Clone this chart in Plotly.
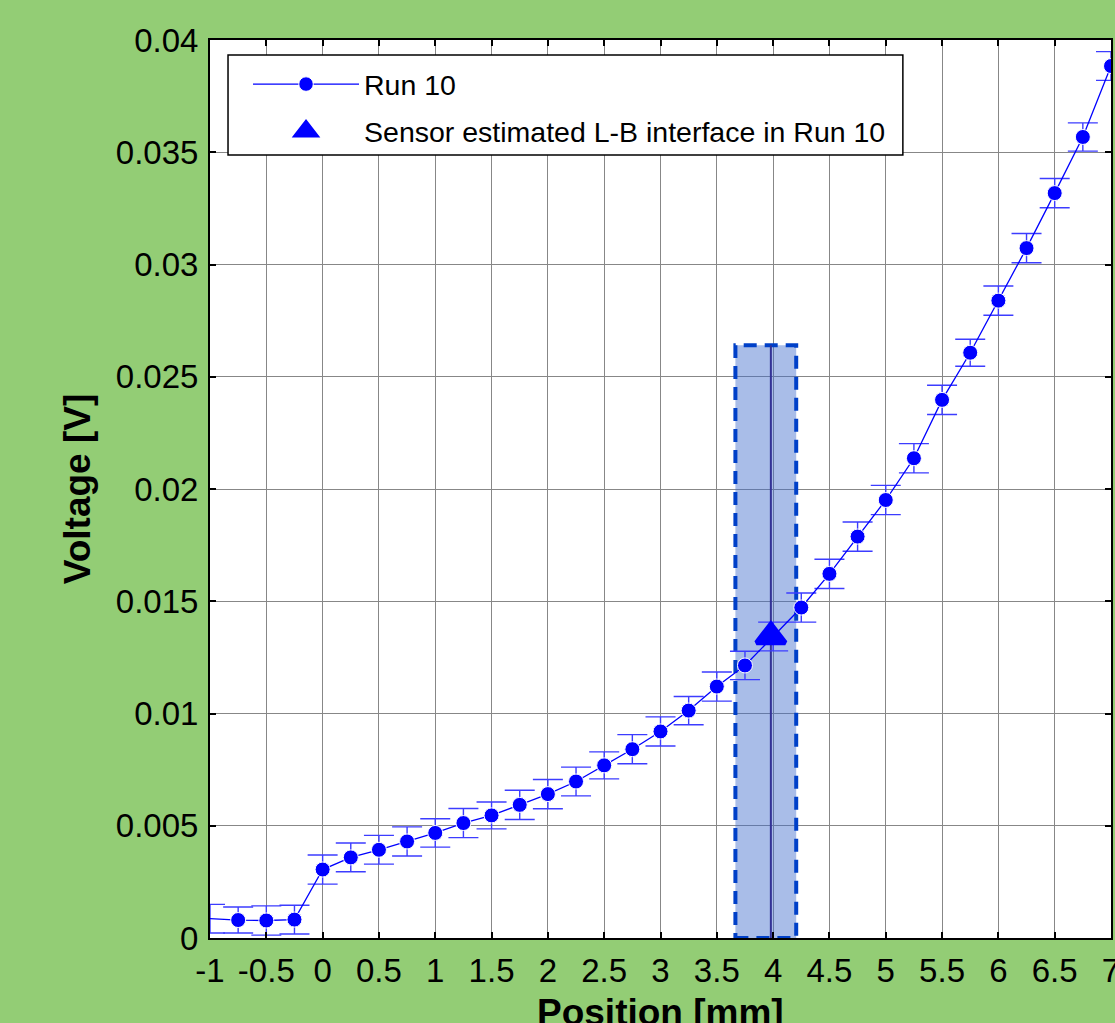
import plotly.graph_objects as go

# ---- data ----
position_mm = [-1.0, -0.75, -0.5, -0.25, 0.0, 0.25, 0.5, 0.75, 1.0, 1.25, 1.5, 1.75,
               2.0, 2.25, 2.5, 2.75, 3.0, 3.25, 3.5, 3.75, 4.0, 4.25, 4.5, 4.75,
               5.0, 5.25, 5.5, 5.75, 6.0, 6.25, 6.5, 6.75, 7.0]
voltage_v = [0.00086, 0.00080, 0.00078, 0.00082, 0.00305, 0.00359, 0.00393, 0.00430,
             0.00468, 0.00512, 0.00546, 0.00593, 0.00641, 0.00697, 0.00769, 0.00841,
             0.00920, 0.01013, 0.01120, 0.01214, 0.01343, 0.01472, 0.01622, 0.01788,
             0.01951, 0.02137, 0.02397, 0.02607, 0.02839, 0.03073, 0.03318, 0.03568, 0.03884]
voltage_err = [0.00064, 0.00058, 0.00065, 0.00064, 0.00065, 0.00064, 0.00064, 0.00065,
               0.00063, 0.00065, 0.00060, 0.00065, 0.00065, 0.00064, 0.00060, 0.00065,
               0.00065, 0.00063, 0.00065, 0.00063, 0.00064, 0.00065, 0.00065, 0.00065,
               0.00065, 0.00065, 0.00065, 0.00060, 0.00065, 0.00065, 0.00065, 0.00063, 0.00064]

interface_x = [3.98]
interface_v = [0.01343]
band_x = [3.665, 4.205]      # uncertainty band of the interface position
band_top_v = 0.0264

x_ticks = [-1, -0.5, 0, 0.5, 1, 1.5, 2, 2.5, 3, 3.5, 4, 4.5, 5, 5.5, 6, 6.5, 7]
x_tick_labels = ["-1", "-0.5", "0", "0.5", "1", "1.5", "2", "2.5", "3", "3.5", "4",
                 "4.5", "5", "5.5", "6", "6.5", "7"]
y_ticks = [0, 0.005, 0.01, 0.015, 0.02, 0.025, 0.03, 0.035, 0.04]
y_tick_labels = ["0", "0.005", "0.01", "0.015", "0.02", "0.025", "0.03", "0.035", "0.04"]

x_title = "Position [mm]"
y_title = "Voltage [V]"

x_range = [-1, 7]
y_range = [0, 0.04]

FONT = "Liberation Sans, Arial, sans-serif"
BLUE = "#0000ff"
GREEN = "#93cd75"

# markers whose centre sits on the left axis limit are not drawn in the original
marker_sizes = [0 if x <= x_range[0] else 15 for x in position_mm]

fig = go.Figure()

fig.add_trace(go.Scatter(
    x=position_mm, y=voltage_v, name="Run 10", mode="lines+markers",
    line=dict(color=BLUE, width=1.3),
    marker=dict(color=BLUE, size=marker_sizes, symbol="circle", opacity=1),
    error_y=dict(type="data", array=voltage_err, visible=True,
                 color="rgb(60,60,255)", thickness=1.4, width=15),
    legendgroup="a", cliponaxis=True,
))
fig.add_trace(go.Scatter(
    x=interface_x, y=interface_v, name="Sensor estimated L-B interface in Run 10",
    mode="markers",
    marker=dict(color=BLUE, size=25, symbol="triangle-up", opacity=1,
                line=dict(color=BLUE, width=5)),
    legendgroup="b", cliponaxis=True,
))

# interface uncertainty band and estimated interface position
fig.add_shape(type="rect", xref="x", yref="y", x0=band_x[0], x1=band_x[1],
              y0=0, y1=band_top_v, layer="between",
              fillcolor="rgba(64,108,204,0.45)",
              line=dict(color="rgb(0,64,200)", width=4, dash="13px,8px"))
fig.add_shape(type="line", xref="x", yref="y", x0=interface_x[0], x1=interface_x[0],
              y0=0, y1=band_top_v, layer="between",
              line=dict(color="rgb(50,50,150)", width=2))

# legend frame
fig.add_shape(type="rect", xref="paper", yref="paper",
              x0=0.020, x1=0.769, y0=0.872, y1=0.9833, layer="above",
              fillcolor="white", line=dict(color="black", width=1.5))

# x-axis title (sits partly below the visible page, as in the original)
fig.add_annotation(text=x_title, xref="paper", yref="paper", x=0.5, y=0,
                   xanchor="center", yanchor="top", yshift=-52, showarrow=False,
                   font=dict(family=FONT, size=37, color="black", weight="bold"))

axis_common = dict(
    showgrid=True, gridcolor="rgb(135,135,135)", gridwidth=1,
    showline=True, linecolor="black", linewidth=2, mirror="allticks",
    ticks="inside", ticklen=6, tickwidth=2, tickcolor="black",
    tickfont=dict(family=FONT, size=33, color="black"),
    zeroline=False, ticklabeloverflow="allow",
)

fig.update_xaxes(range=x_range, tickvals=x_ticks, ticktext=x_tick_labels,
                 ticklabelstandoff=2, **axis_common)
fig.update_yaxes(range=y_range, tickvals=y_ticks, ticktext=y_tick_labels,
                 title=dict(text=y_title, standoff=14,
                            font=dict(family=FONT, size=37, color="black", weight="bold")),
                 ticklabelstandoff=3, **axis_common)

fig.update_layout(
    width=1115, height=1023,
    margin=dict(l=210, r=4, t=40, b=85, autoexpand=False),
    paper_bgcolor=GREEN, plot_bgcolor="white",
    font=dict(family=FONT, color="black"),
    showlegend=True,
    legend=dict(x=0.0422, y=0.9788, xanchor="left", yanchor="top",
                bgcolor="rgba(0,0,0,0)", borderwidth=0,
                font=dict(family=FONT, size=28.5, color="black"),
                itemwidth=106, tracegroupgap=7, traceorder="grouped",
                itemsizing="trace"),
)

fig.write_html("out.html", config={"displayModeBar": False},
               post_script="document.body.style.margin='0px';"
                           "document.body.style.background='" + GREEN + "';")
